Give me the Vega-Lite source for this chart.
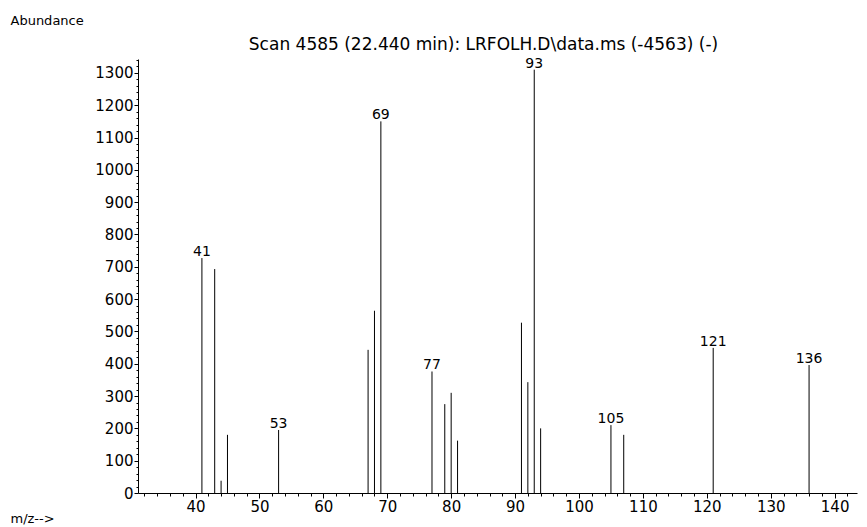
{
  "$schema": "https://vega.github.io/schema/vega-lite/v6.json",
  "width": 719,
  "height": 434,
  "autosize": "none",
  "padding": {"left": 138, "top": 59, "right": 10, "bottom": 34},
  "background": "white",
  "config": {"view": {"stroke": null}, "font": "DejaVu Sans"},
  "title": {
    "text": "Scan 4585 (22.440 min): LRFOLH.D\\data.ms (-4563) (-)",
    "fontSize": 17,
    "fontWeight": "normal",
    "color": "black",
    "anchor": "middle",
    "dx": -14,
    "offset": -57,
    "baseline": "bottom",
    "font": "DejaVu Sans"
  },
  "data": {
    "values": [
      {"mz": 41, "abundance": 727, "label": "41"},
      {"mz": 43, "abundance": 693, "label": null},
      {"mz": 44, "abundance": 38, "label": null},
      {"mz": 45, "abundance": 180, "label": null},
      {"mz": 53, "abundance": 195, "label": "53"},
      {"mz": 67, "abundance": 443, "label": null},
      {"mz": 68, "abundance": 564, "label": null},
      {"mz": 69, "abundance": 1150, "label": "69"},
      {"mz": 77, "abundance": 376, "label": "77"},
      {"mz": 79, "abundance": 275, "label": null},
      {"mz": 80, "abundance": 310, "label": null},
      {"mz": 81, "abundance": 162, "label": null},
      {"mz": 91, "abundance": 527, "label": null},
      {"mz": 92, "abundance": 343, "label": null},
      {"mz": 93, "abundance": 1310, "label": "93"},
      {"mz": 94, "abundance": 200, "label": null},
      {"mz": 105, "abundance": 210, "label": "105"},
      {"mz": 107, "abundance": 180, "label": null},
      {"mz": 121, "abundance": 449, "label": "121"},
      {"mz": 136, "abundance": 396, "label": "136"}
    ]
  },
  "resolve": {"axis": {"x": "independent", "y": "independent"}},
  "layer": [
    {
      "mark": {"type": "rule", "color": "black", "strokeWidth": 1},
      "encoding": {
        "x": {
          "field": "mz",
          "type": "quantitative",
          "scale": {"domain": [31, 143.5], "nice": false, "zero": false},
          "axis": {
            "orient": "bottom",
            "values": [40, 50, 60, 70, 80, 90, 100, 110, 120, 130, 140],
            "format": "d",
            "tickSize": 5,
            "labelPadding": 1,
            "labelFontSize": 15,
            "labelColor": "black",
            "labelFlush": false,
            "labelOverlap": false,
            "tickColor": "black",
            "domainColor": "black",
            "grid": false,
            "title": "m/z-->",
            "titleX": -128,
            "titleY": 25,
            "titleAlign": "left",
            "titleBaseline": "middle",
            "titleFontWeight": "normal",
            "titleFontSize": 13,
            "titleColor": "black"
          }
        },
        "y": {
          "field": "abundance",
          "type": "quantitative",
          "scale": {"domain": [0, 1343], "nice": false},
          "axis": {
            "orient": "left",
            "values": [0, 100, 200, 300, 400, 500, 600, 700, 800, 900, 1000, 1100, 1200, 1300],
            "format": "d",
            "tickSize": 4,
            "labelPadding": 1,
            "labelFontSize": 15,
            "labelColor": "black",
            "labelFlush": false,
            "labelOverlap": false,
            "tickColor": "black",
            "domainColor": "black",
            "grid": false,
            "title": "Abundance",
            "titleAngle": 0,
            "titleX": -128,
            "titleY": -39,
            "titleAlign": "left",
            "titleBaseline": "middle",
            "titleFontWeight": "normal",
            "titleFontSize": 13,
            "titleColor": "black"
          }
        },
        "y2": {"datum": 0}
      }
    },
    {
      "transform": [{"filter": "datum.label != null"}],
      "mark": {"type": "text", "baseline": "alphabetic", "dy": -2, "fontSize": 14, "color": "black"},
      "encoding": {
        "x": {
          "field": "mz",
          "type": "quantitative",
          "scale": {"domain": [31, 143.5], "nice": false, "zero": false},
          "axis": {
            "orient": "bottom",
            "values": [32,34,36,38,42,44,46,48,52,54,56,58,62,64,66,68,72,74,76,78,82,84,86,88,92,94,96,98,102,104,106,108,112,114,116,118,122,124,126,128,132,134,136,138,142],
            "labels": false,
            "tickSize": 3,
            "tickColor": "black",
            "domain": false,
            "grid": false,
            "title": null
          }
        },
        "y": {
          "field": "abundance",
          "type": "quantitative",
          "scale": {"domain": [0, 1343], "nice": false},
          "axis": {
            "orient": "left",
            "values": [20,40,60,80,120,140,160,180,220,240,260,280,320,340,360,380,420,440,460,480,520,540,560,580,620,640,660,680,720,740,760,780,820,840,860,880,920,940,960,980,1020,1040,1060,1080,1120,1140,1160,1180,1220,1240,1260,1280,1320,1340],
            "labels": false,
            "tickSize": 2,
            "tickColor": "black",
            "domain": false,
            "grid": false,
            "title": null
          }
        },
        "text": {"field": "label"}
      }
    }
  ]
}
